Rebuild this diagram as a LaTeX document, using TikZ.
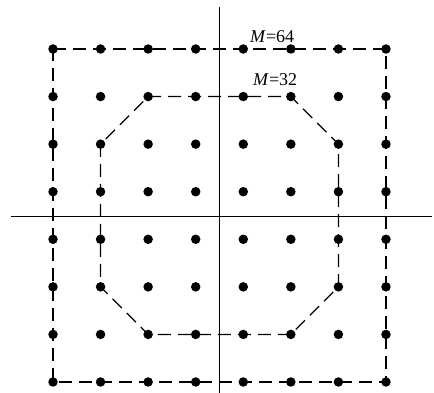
\documentclass[tikz,border=0pt]{standalone}
\usepackage{fontspec}
\setmainfont{Liberation Serif}
\begin{document}
\begin{tikzpicture}[x=1pt,y=-1pt,
  dot/.style={circle,fill=black,inner sep=0pt,minimum size=9.5pt},
  frame/.style={line width=1.2pt,dash pattern=on 13pt off 7pt},
  axis/.style={line width=1pt},
  lab/.style={anchor=base west,inner sep=0pt,font=\fontsize{18}{20}\selectfont}]
\useasboundingbox (0,0) rectangle (434,393);
\foreach \i in {0,...,7}
  \foreach \j in {0,...,7}
    \coordinate (c\i\j) at ({53+47.57*\i},{49+47.57*\j});
\coordinate (top) at (219,7);
\coordinate (bottom) at (219,393);
\coordinate (left) at (11,216);
\coordinate (right) at (432,216);
\draw[axis] (top) -- (bottom);
\draw[axis] (left) -- (right);
\draw[frame] (c00) -- (c70) -- (c77) -- (c07) -- cycle;
\draw[frame] (c21) -- (c51) -- (c62) -- (c65) -- (c56) -- (c26) -- (c15) -- (c12) -- cycle;
\foreach \i in {0,...,7}
  \foreach \j in {0,...,7}
    \node[dot] (p\i\j) at (c\i\j) {};
\node[lab] (m64) at (250,43) {\textit{M}=64};
\node[lab] (m32) at (253,86) {\textit{M}=32};
\end{tikzpicture}
\end{document}
